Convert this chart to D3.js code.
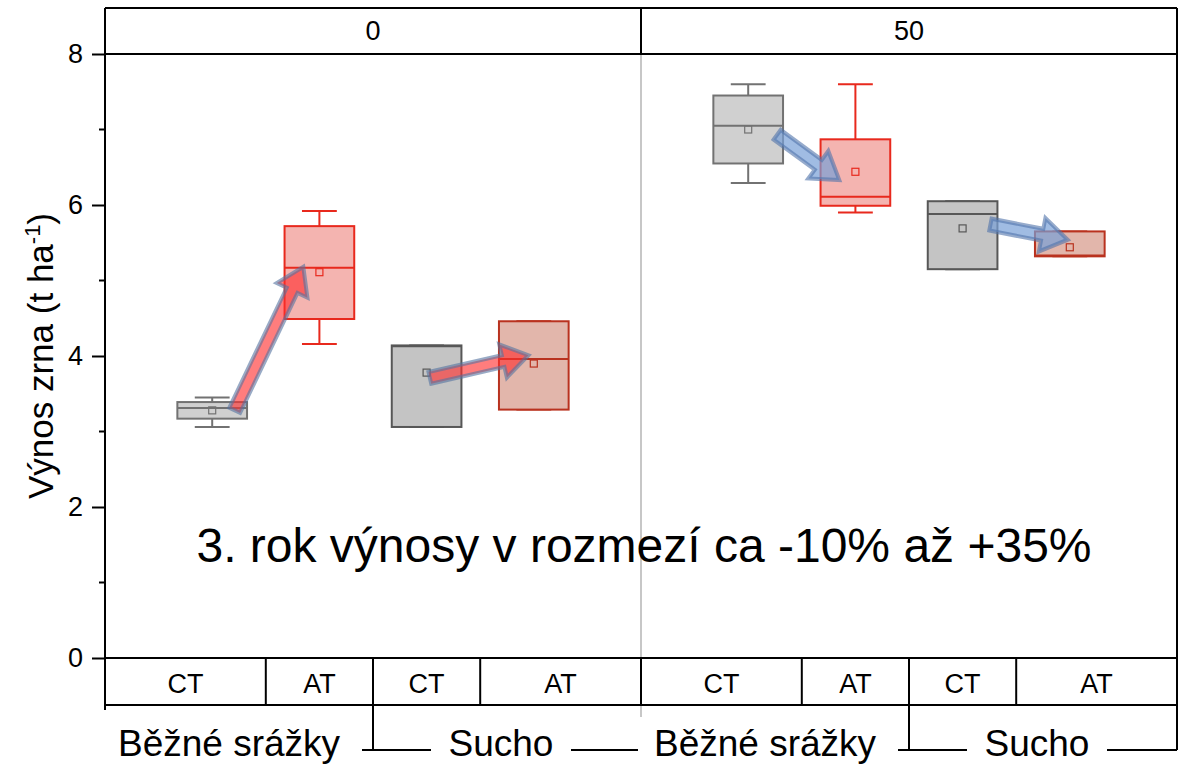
<!DOCTYPE html>
<html>
<head>
<meta charset="utf-8">
<script src="https://cdn.jsdelivr.net/npm/d3@7"></script>
<style>
  body { margin: 0; background: #fff; }
  svg { font-family: "Liberation Sans", Arial, sans-serif; }
</style>
</head>
<body>
<svg id="chart" width="1192" height="764"></svg>
<script>
// DATA
const panels = ["0", "50"];
const groups = ["Běžné srážky", "Sucho"];
const treatments = ["CT", "AT"];
const yTicks = [0, 2, 4, 6, 8];
const yMinorTicks = [1, 3, 5, 7];

// one box per panel / group / treatment, in that order
const boxPanel = ["0", "0", "0", "0", "50", "50", "50", "50"];
const boxGroup = ["Běžné srážky", "Běžné srážky", "Sucho", "Sucho", "Běžné srážky", "Běžné srážky", "Sucho", "Sucho"];
const boxTreat = ["CT", "AT", "CT", "AT", "CT", "AT", "CT", "AT"];
const whiskerLow  = [3.06, 4.16, 3.06, 3.29, 6.29, 5.90, 5.15, 5.32];
const q1          = [3.17, 4.49, 3.06, 3.29, 6.55, 5.99, 5.15, 5.32];
const median      = [3.31, 5.17, 4.13, 3.96, 7.05, 6.11, 5.88, 5.33];
const q3          = [3.39, 5.72, 4.14, 4.46, 7.45, 6.87, 6.05, 5.65];
const whiskerHigh = [3.45, 5.92, 4.14, 4.46, 7.60, 7.60, 6.05, 5.65];
const means       = [3.28, 5.11, 3.78, 3.90, 7.00, 6.44, 5.69, 5.44];

// annotation arrows (slot position inside panel, value)
const arrowPanel = ["0", "0", "50", "50"];
const arrowFromSlot = [1.21, 3.03, 1.27, 3.26];
const arrowFromVal  = [3.28, 3.71, 6.93, 5.74];
const arrowToSlot   = [1.85, 3.95, 1.85, 3.98];
const arrowToVal    = [5.18, 4.01, 6.33, 5.54];

const note = "3. rok výnosy v rozmezí ca -10% až +35%";

// SETUP
const svg = d3.select("#chart");
const mLeft = 105, mRight = 1177, headTop = 8, plotTop = 54, plotBottom = 658, catBottom = 705, groupLine = 750;

const x = d3.scaleBand().domain(panels).range([mLeft, mRight]);
const slot = d3.scaleLinear().domain([0, 5]).range([0, x.bandwidth()]);
const y = d3.scaleLinear().domain([0, 8]).range([plotBottom, plotTop]);

const boxW = slot(0.65);
const capW = boxW / 2;

const boxes = boxPanel.map(function (p, i) {
    return {
        panel: p, group: boxGroup[i], treat: boxTreat[i],
        slot: i % 4 + 1,
        lo: whiskerLow[i], q1: q1[i], med: median[i], q3: q3[i], hi: whiskerHigh[i], mean: means[i]
    };
});

function colors(d) {
    if (d.treat === "CT") {
        return d.group === "Sucho" ? {fill: "#c4c4c4", stroke: "#575757"} : {fill: "#d0d0d0", stroke: "#727272"};
    }
    return d.group === "Sucho" ? {fill: "#e2b6ab", stroke: "#b9321f"} : {fill: "#f4b4b0", stroke: "#e8291d"};
}

function cx(d) {
    return x(d.panel) + slot(d.slot);
}

// panel divider inside plot
svg.append("line")
    .attr("x1", x("50")).attr("x2", x("50"))
    .attr("y1", plotTop).attr("y2", catBottom + 12)
    .attr("stroke", "#b4b4b4").attr("stroke-width", 1.5);

// BOXES
const g = svg.selectAll(".box")
    .data(boxes)
    .enter().append("g")
    .attr("class", "box");

g.append("line")
    .attr("x1", cx).attr("x2", cx)
    .attr("y1", d => y(d.hi)).attr("y2", d => y(d.q3))
    .attr("stroke", d => colors(d).stroke).attr("stroke-width", 2);
g.append("line")
    .attr("x1", cx).attr("x2", cx)
    .attr("y1", d => y(d.lo)).attr("y2", d => y(d.q1))
    .attr("stroke", d => colors(d).stroke).attr("stroke-width", 2);
g.append("line")
    .attr("x1", d => cx(d) - capW / 2).attr("x2", d => cx(d) + capW / 2)
    .attr("y1", d => y(d.hi)).attr("y2", d => y(d.hi))
    .attr("stroke", d => colors(d).stroke).attr("stroke-width", 2);
g.append("line")
    .attr("x1", d => cx(d) - capW / 2).attr("x2", d => cx(d) + capW / 2)
    .attr("y1", d => y(d.lo)).attr("y2", d => y(d.lo))
    .attr("stroke", d => colors(d).stroke).attr("stroke-width", 2);
g.append("rect")
    .attr("x", d => cx(d) - boxW / 2)
    .attr("width", boxW)
    .attr("y", d => y(d.q3))
    .attr("height", d => y(d.q1) - y(d.q3))
    .attr("fill", d => colors(d).fill)
    .attr("stroke", d => colors(d).stroke).attr("stroke-width", 2);
g.append("line")
    .attr("x1", d => cx(d) - boxW / 2).attr("x2", d => cx(d) + boxW / 2)
    .attr("y1", d => y(d.med)).attr("y2", d => y(d.med))
    .attr("stroke", d => colors(d).stroke).attr("stroke-width", 2);
g.append("rect")
    .attr("x", d => cx(d) - 3.5).attr("y", d => y(d.mean) - 3.5)
    .attr("width", 7).attr("height", 7)
    .attr("fill", "none")
    .attr("stroke", d => colors(d).stroke).attr("stroke-width", 1.2);

// ARROWS
function arrowPath(x0, y0, x1, y1) {
    const dx = x1 - x0, dy = y1 - y0;
    const len = Math.sqrt(dx * dx + dy * dy);
    const ux = dx / len, uy = dy / len, nx = -uy, ny = ux;
    const shaft = 6, head = 17, headLen = 26;
    const bx = x1 - ux * headLen, by = y1 - uy * headLen;
    const pts = [
        [x0 + nx * shaft, y0 + ny * shaft],
        [bx + nx * shaft, by + ny * shaft],
        [bx + nx * head, by + ny * head],
        [x1, y1],
        [bx - nx * head, by - ny * head],
        [bx - nx * shaft, by - ny * shaft],
        [x0 - nx * shaft, y0 - ny * shaft]
    ];
    return "M" + pts.map(p => p[0].toFixed(1) + "," + p[1].toFixed(1)).join("L") + "Z";
}

svg.selectAll(".arrow")
    .data(arrowPanel)
    .enter().append("path")
    .attr("class", "arrow")
    .attr("d", function (p, i) {
        return arrowPath(
            x(p) + slot(arrowFromSlot[i]), y(arrowFromVal[i]),
            x(p) + slot(arrowToSlot[i]), y(arrowToVal[i]));
    })
    .attr("fill", p => p === "0" ? "rgba(255,45,45,0.62)" : "rgba(120,160,215,0.7)")
    .attr("stroke", p => p === "0" ? "rgba(85,115,160,0.6)" : "rgba(80,115,170,0.6)")
    .attr("stroke-width", 4)
    .attr("stroke-linejoin", "miter");

// NOTE
svg.append("text")
    .attr("x", (mLeft + mRight) / 2 + 3)
    .attr("y", 562)
    .attr("text-anchor", "middle")
    .attr("font-size", 48)
    .text(note);

// Y AXIS
const yAxis = svg.append("g")
    .attr("transform", "translate(" + mLeft + ",0)")
    .call(d3.axisLeft(y).tickValues(yTicks).tickSize(13).tickPadding(9).tickFormat(d3.format("d")));
yAxis.select(".domain").remove();
yAxis.selectAll("line").attr("stroke", "#000").attr("stroke-width", 2);
yAxis.selectAll("text").attr("font-size", 27).attr("fill", "#000").attr("font-family", "Liberation Sans, Arial, sans-serif");

svg.selectAll(".minor")
    .data(yMinorTicks)
    .enter().append("line")
    .attr("class", "minor")
    .attr("x1", mLeft - 6).attr("x2", mLeft)
    .attr("y1", d => y(d)).attr("y2", d => y(d))
    .attr("stroke", "#000").attr("stroke-width", 2);

svg.append("text")
    .attr("transform", "translate(53," + 356 + ") rotate(-90)")
    .attr("text-anchor", "middle")
    .attr("font-size", 35)
    .call(function (t) {
        t.append("tspan").text("Výnos zrna (t ha");
        t.append("tspan").attr("font-size", 22).attr("dy", -13).text("-1");
        t.append("tspan").attr("dy", 13).text(")");
    });

// FRAME
const frame = svg.append("g").attr("stroke", "#000").attr("stroke-width", 2).attr("fill", "none");
frame.append("line").attr("x1", mLeft).attr("x2", mLeft).attr("y1", headTop).attr("y2", 710);
frame.append("line").attr("x1", mRight).attr("x2", mRight).attr("y1", headTop).attr("y2", groupLine);
frame.append("line").attr("x1", mLeft).attr("x2", mRight).attr("y1", headTop).attr("y2", headTop);
frame.append("line").attr("x1", mLeft).attr("x2", mRight).attr("y1", plotTop).attr("y2", plotTop);
frame.append("line").attr("x1", mLeft).attr("x2", mRight).attr("y1", plotBottom).attr("y2", plotBottom);
frame.append("line").attr("x1", mLeft).attr("x2", mRight).attr("y1", catBottom).attr("y2", catBottom);
frame.append("line").attr("x1", x("50")).attr("x2", x("50")).attr("y1", headTop).attr("y2", plotTop);

// header labels
svg.selectAll(".panel-label")
    .data(panels)
    .enter().append("text")
    .attr("class", "panel-label")
    .attr("x", p => x(p) + x.bandwidth() / 2)
    .attr("y", 40)
    .attr("text-anchor", "middle")
    .attr("font-size", 27)
    .text(p => p);

// category row: cell edges sit halfway between boxes
const cellEdges = [0, 1.5, 2.5, 3.5, 5];
const cells = [];
panels.forEach(function (p) {
    groups.forEach(function (gr, gi) {
        treatments.forEach(function (t, ti) {
            const k = gi * 2 + ti;
            cells.push({panel: p, label: t, x0: x(p) + slot(cellEdges[k]), x1: x(p) + slot(cellEdges[k + 1])});
        });
    });
});

frame.selectAll(".cell-edge")
    .data(cells.filter((c, i) => i % 4 !== 0))
    .enter().append("line")
    .attr("x1", c => c.x0).attr("x2", c => c.x0)
    .attr("y1", plotBottom).attr("y2", catBottom);
svg.append("line")
    .attr("x1", x("50")).attr("x2", x("50")).attr("y1", plotBottom).attr("y2", catBottom)
    .attr("stroke", "#000").attr("stroke-width", 2);

svg.selectAll(".cell-label")
    .data(cells)
    .enter().append("text")
    .attr("x", c => (c.x0 + c.x1) / 2)
    .attr("y", 693)
    .attr("text-anchor", "middle")
    .attr("font-size", 27)
    .text(c => c.label);

// group row: bracket line broken by the label
const groupCells = [];
panels.forEach(function (p) {
    groups.forEach(function (gr, gi) {
        groupCells.push({panel: p, label: gr, x0: x(p) + slot(gi === 0 ? 0 : 2.5), x1: x(p) + slot(gi === 0 ? 2.5 : 5), first: gi === 0});
    });
});

frame.selectAll(".group-line")
    .data(groupCells)
    .enter().append("line")
    .attr("x1", c => c.x0).attr("x2", c => c.x1)
    .attr("y1", groupLine).attr("y2", groupLine);
frame.selectAll(".group-edge")
    .data(groupCells.filter(c => !c.first))
    .enter().append("line")
    .attr("x1", c => c.x0).attr("x2", c => c.x0)
    .attr("y1", catBottom).attr("y2", groupLine);

const gl = svg.selectAll(".group-label")
    .data(groupCells)
    .enter().append("g");
gl.append("rect")
    .attr("fill", "#fff")
    .attr("y", groupLine - 12)
    .attr("height", 24)
    .attr("x", c => c.first ? c.x0 - 3 : (c.x0 + c.x1) / 2 - 76)
    .attr("width", c => c.first ? 260 : 140);
gl.append("text")
    .attr("x", c => (c.x0 + c.x1) / 2 - (c.first ? 10 : 6))
    .attr("y", 756)
    .attr("text-anchor", "middle")
    .attr("font-size", 37)
    .text(c => c.label);
</script>
</body>
</html>
